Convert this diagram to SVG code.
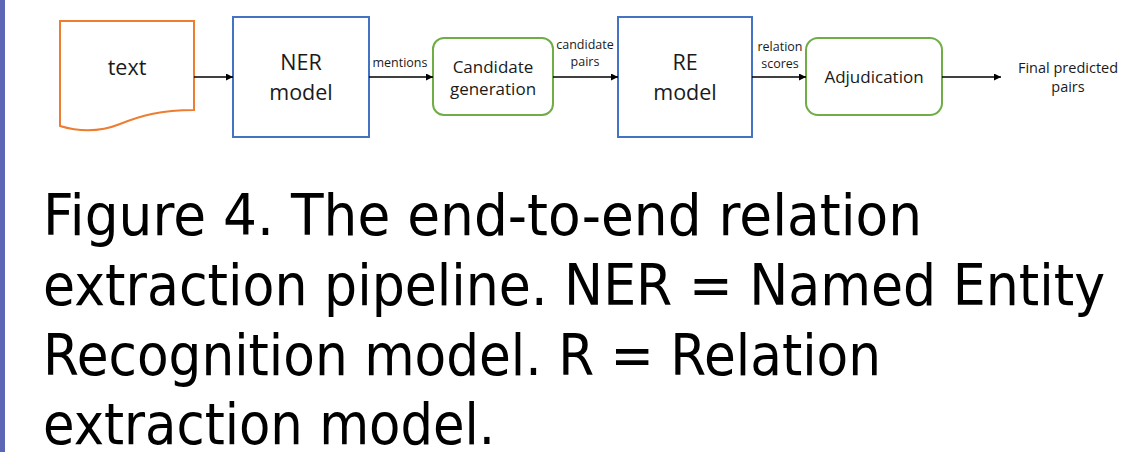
<svg xmlns="http://www.w3.org/2000/svg" width="1128" height="452" viewBox="0 0 1128 452">
  <style>
    .lbl { font-family: "Open Sans", "Noto Sans", "Liberation Sans", sans-serif; fill: #1a1a1a; text-anchor: middle; }
    .big { font-size: 21.5px; }
    .mid { font-size: 17px; }
    .sm { font-size: 12.5px; }
    .fin { font-size: 14.5px; }
    .cap { font-family: "DejaVu Sans", "Noto Sans", sans-serif; font-size: 57px; fill: #000; }
    .blue { fill: #fff; stroke: #4472c4; stroke-width: 2; }
    .green { fill: #fff; stroke: #70ad47; stroke-width: 2; }
    .orange { fill: #fff; stroke: #ed7d31; stroke-width: 2; }
    .edge { stroke: #000; stroke-width: 1.3; fill: none; marker-end: url(#arrow); }
  </style>
  <defs>
    <marker id="arrow" viewBox="0 0 10 10" refX="10" refY="5" markerWidth="7" markerHeight="7" markerUnits="userSpaceOnUse" orient="auto">
      <path d="M0,0 L10,5 L0,10 z" fill="#000"/>
    </marker>
  </defs>
  <rect width="1128" height="452" fill="#fff"/>
  <!-- slide accent bar -->
  <rect x="0" y="0" width="5" height="452" fill="#5b67b5"/>

  <g id="node-text">
    <path class="orange" d="M60,21 L194,21 L194,110 C160,110 140,116 120,124 C100,132 80,132 60,126 Z"/>
    <text class="lbl big" x="127" y="75">text</text>
  </g>
  <g id="node-ner">
    <rect class="blue" x="233" y="17" width="136" height="120"/>
    <text class="lbl big" x="301" y="70">NER</text>
    <text class="lbl big" x="301" y="100">model</text>
  </g>
  <g id="node-candidate">
    <rect class="green" x="433" y="38" width="120" height="77" rx="11"/>
    <text class="lbl mid" x="493" y="73">Candidate</text>
    <text class="lbl mid" x="493" y="95">generation</text>
  </g>
  <g id="node-re">
    <rect class="blue" x="618" y="17" width="134" height="120"/>
    <text class="lbl big" x="685" y="70">RE</text>
    <text class="lbl big" x="685" y="100">model</text>
  </g>
  <g id="node-adjudication">
    <rect class="green" x="806" y="38" width="136" height="77" rx="12"/>
    <text class="lbl mid" x="874" y="83">Adjudication</text>
  </g>
  <g id="node-final">
    <text class="lbl fin" x="1068" y="73">Final predicted</text>
    <text class="lbl fin" x="1068" y="92">pairs</text>
  </g>

  <g id="connectors">
    <line class="edge" x1="194" y1="77" x2="233" y2="77"/>
    <line class="edge" x1="369" y1="77" x2="433" y2="77"/>
    <line class="edge" x1="553" y1="77" x2="618" y2="77"/>
    <line class="edge" x1="752" y1="77" x2="806" y2="77"/>
    <line class="edge" x1="942" y1="77" x2="1001" y2="77"/>
    <text class="lbl sm" x="400" y="67">mentions</text>
    <text class="lbl sm" x="585" y="49">candidate</text>
    <text class="lbl sm" x="585" y="66">pairs</text>
    <text class="lbl sm" x="780" y="51">relation</text>
    <text class="lbl sm" x="780" y="68">scores</text>
  </g>

  <g id="caption">
    <text class="cap" x="43" y="235" textLength="879" lengthAdjust="spacingAndGlyphs">Figure 4. The end-to-end relation</text>
    <text class="cap" x="43" y="305" textLength="1062" lengthAdjust="spacingAndGlyphs">extraction pipeline. NER = Named Entity</text>
    <text class="cap" x="43" y="375" textLength="838" lengthAdjust="spacingAndGlyphs">Recognition model. R = Relation</text>
    <text class="cap" x="43" y="444" textLength="452" lengthAdjust="spacingAndGlyphs">extraction model.</text>
  </g>
</svg>
